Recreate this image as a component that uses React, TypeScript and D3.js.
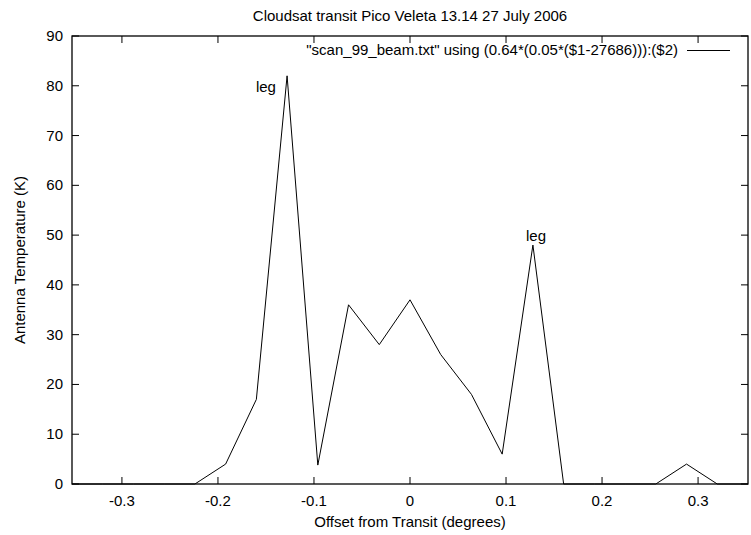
import React from "react";
import * as d3 from "d3";

const offsets = [-0.352, -0.32, -0.288, -0.256, -0.224, -0.192, -0.16, -0.128, -0.096, -0.064, -0.032, 0, 0.032, 0.064, 0.096, 0.128, 0.16, 0.192, 0.224, 0.256, 0.288, 0.32, 0.352];
const temps = [0, 0, 0, 0, 0, 4, 17, 82, 3.8, 36, 28, 37, 26, 18, 6, 48, 0, 0, 0, 0, 4, 0, 0];
const xTicks = [-0.3, -0.2, -0.1, 0, 0.1, 0.2, 0.3];
const xTickLabels = ["-0.3", "-0.2", "-0.1", "0", "0.1", "0.2", "0.3"];
const yTicks = [0, 10, 20, 30, 40, 50, 60, 70, 80, 90];
const labels = [
  { text: "leg", x: -0.1396, y: 80, anchor: "end" },
  { text: "leg", x: 0.1312, y: 50, anchor: "middle" },
];
const title = "Cloudsat transit Pico Veleta 13.14 27 July 2006";
const legendText = "\"scan_99_beam.txt\" using (0.64*(0.05*($1-27686))):($2)";
const xTitle = "Offset from Transit (degrees)";
const yTitle = "Antenna Temperature (K)";

export default function App() {
  const W = 751, H = 535;
  const L = 72, R = 748, T = 36, B = 484;
  const x = d3.scaleLinear().domain([-0.352, 0.352]).range([L, R]);
  const y = d3.scaleLinear().domain([0, 90]).range([B, T]);
  const line = d3.line<number>().x((_, i) => x(offsets[i])).y((d) => y(d));
  const font = "'Liberation Sans', Arial, Helvetica, sans-serif";
  const tl = 7;
  return (
    <svg width={W} height={H} style={{ position: "absolute", left: 0, top: 0, background: "#fff" }} fontFamily={font} fontSize={15}>
      <rect width={W} height={H} fill="#fff" />
      <text x={410} y={21} textAnchor="middle">{title}</text>
      {yTicks.map((t) => (
        <g key={"y" + t}>
          <line x1={L} x2={L + tl} y1={y(t)} y2={y(t)} stroke="#000" />
          <line x1={R} x2={R - tl} y1={y(t)} y2={y(t)} stroke="#000" />
          <text x={63} y={y(t) + 5} textAnchor="end">{t}</text>
        </g>
      ))}
      {xTicks.map((t, i) => (
        <g key={"x" + t}>
          <line x1={x(t)} x2={x(t)} y1={B} y2={B - tl} stroke="#000" />
          <line x1={x(t)} x2={x(t)} y1={T} y2={T + tl} stroke="#000" />
          <text x={x(t)} y={506} textAnchor="middle">{xTickLabels[i]}</text>
        </g>
      ))}
      <path d={line(temps) ?? ""} fill="none" stroke="#000" strokeWidth={1} />
      <rect x={L} y={T} width={R - L} height={B - T} fill="none" stroke="#000" strokeWidth={1.3} />
      <text x={678} y={55} textAnchor="end">{legendText}</text>
      <line x1={687} x2={730} y1={50.5} y2={50.5} stroke="#000" />
      {labels.map((l, i) => (
        <text key={i} x={x(l.x)} y={y(l.y) + 6} textAnchor={l.anchor as any}>{l.text}</text>
      ))}
      <text x={410} y={527} textAnchor="middle">{xTitle}</text>
      <text transform={`translate(25, 260) rotate(-90)`} textAnchor="middle">{yTitle}</text>
    </svg>
  );
}
